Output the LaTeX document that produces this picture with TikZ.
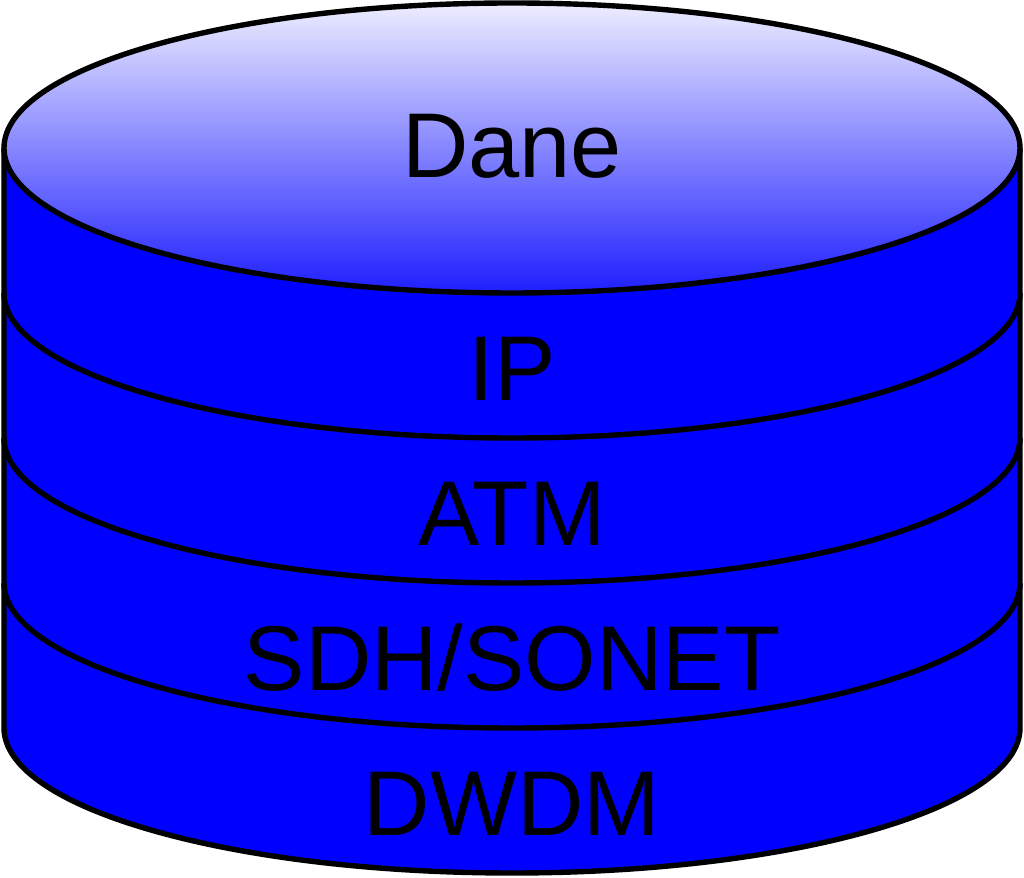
\documentclass[tikz,border=0pt]{standalone}
\usepackage{fontspec}
\setmainfont{Liberation Sans}
\begin{document}
\begin{tikzpicture}[x=0.5pt,y=0.5pt,
  edge/.style={line width=2.7pt,draw=black,line join=round},
  lbl/.style={font=\fontsize{46}{52}\selectfont,text=black,anchor=base,inner sep=0pt}]
\useasboundingbox (0,0) rectangle (1024,878);
% body
\fill[blue] (4,730) -- (4,150) arc[start angle=180,end angle=360,x radius=254pt,y radius=72.5pt] -- (1020,730) -- cycle;
\draw[edge] (4,730) -- (4,150) arc[start angle=180,end angle=360,x radius=254pt,y radius=72.5pt] -- (1020,730);
% band arcs
\foreach \c in {585,440,295}{
  \draw[edge] (4,\c) arc[start angle=180,end angle=360,x radius=254pt,y radius=72.5pt];
}
% top ellipse
\shade[top color=white!93!blue,bottom color=blue!88!white] (512,730) ellipse[x radius=254pt,y radius=72.5pt];
\draw[edge] (512,730) ellipse[x radius=254pt,y radius=72.5pt];
% labels
\node[lbl] (dane) at (512,700) {Dane};
\node[lbl] (ip) at (512,477) {IP};
\node[lbl] (atm) at (512,332) {ATM};
\node[lbl] (sdh) at (512,187) {SDH/SONET};
\node[lbl] (dwdm) at (512,42) {DWDM};
\end{tikzpicture}
\end{document}
